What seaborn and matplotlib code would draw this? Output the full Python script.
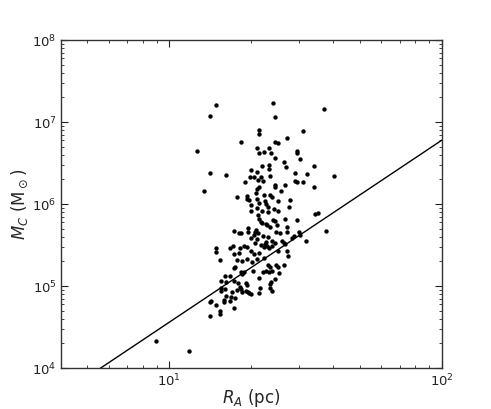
import numpy as np
import pandas as pd
import matplotlib
matplotlib.use("Agg")
import matplotlib.pyplot as plt
import seaborn as sns

# ── Data (log10 of R_A in pc, log10 of M_C in Msun) ───────────────────────
log_R = [
    1.170, 1.150, 1.380, 1.387, 1.566, 1.328, 1.328, 1.491, 1.264, 1.432,
    1.387, 1.400, 1.102, 1.321, 1.347, 1.328, 1.364, 1.372, 1.387, 1.470,
    1.470, 1.478, 1.339, 1.364, 1.364, 1.420, 1.427, 1.150, 1.207, 1.462,
    1.505, 1.532, 1.529, 1.605, 1.127, 1.298, 1.321, 1.297, 1.309, 1.337,
    1.371, 1.276, 1.325, 1.344, 1.388, 1.386, 1.409, 1.426, 1.462, 1.468,
    1.489, 1.322, 1.330, 1.318, 1.349, 1.371, 1.378, 1.398, 1.442, 1.249,
    1.285, 1.294, 1.286, 1.322, 1.330, 1.352, 1.354, 1.298, 1.300, 1.322,
    1.341, 1.361, 1.384, 1.398, 1.438, 1.326, 1.328, 1.361, 1.380, 1.388,
    1.337, 1.341, 1.356, 1.370, 1.394, 1.359, 1.426, 1.468, 1.534, 1.546,
    1.290, 1.319, 1.315, 1.237, 1.254, 1.263, 1.288, 1.299, 1.309, 1.321,
    1.327, 1.345, 1.361, 1.393, 1.405, 1.431, 1.432, 1.389, 1.376, 1.356,
    1.352, 1.336, 1.313, 1.286, 1.273, 1.258, 1.235, 1.223, 1.170, 1.170,
    1.254, 1.237, 1.299, 1.310, 1.330, 1.347, 1.359, 1.377, 1.367, 1.415,
    1.420, 1.451, 1.459, 1.478, 1.474, 1.501, 1.573, 1.400, 1.432, 1.437,
    1.423, 1.248, 1.187, 1.266, 1.286, 1.304, 1.322, 1.349, 1.361, 1.369,
    1.393, 1.400, 1.420, 1.240, 1.236, 1.264, 1.273, 1.266, 1.221, 1.206,
    1.308, 1.328, 1.344, 1.366, 1.376, 1.355, 1.189, 1.208, 1.238, 1.251,
    1.281, 1.286, 1.259, 1.249, 1.229, 1.191, 1.189, 1.206, 1.209, 1.225,
    1.240, 1.264, 1.266, 1.280, 1.288, 1.292, 1.299, 1.332, 1.328, 1.371,
    1.371, 1.377, 1.386, 1.404, 1.374, 1.151, 1.150, 1.170, 1.202, 1.202,
    1.223, 1.236, 1.187, 1.187, 1.150, 0.951, 1.073,
]
log_M = [
    7.203, 7.072, 7.231, 7.060, 7.162, 6.909, 6.853, 6.893, 6.759, 6.804,
    6.763, 6.739, 6.653, 6.682, 6.633, 6.621, 6.682, 6.629, 6.568, 6.653,
    6.629, 6.551, 6.470, 6.474, 6.429, 6.511, 6.450, 6.376, 6.352, 6.385,
    6.364, 6.470, 6.214, 6.344, 6.165, 6.417, 6.393, 6.332, 6.332, 6.336,
    6.340, 6.267, 6.291, 6.283, 6.230, 6.214, 6.157, 6.230, 6.283, 6.267,
    6.275, 6.185, 6.210, 6.136, 6.108, 6.108, 6.083, 6.035, 6.047, 6.083,
    6.104, 6.047, 6.059, 6.059, 6.018, 6.035, 6.002, 5.986, 5.913, 5.953,
    5.921, 5.961, 5.945, 5.917, 5.961, 5.864, 5.823, 5.900, 5.807, 5.794,
    5.778, 5.766, 5.758, 5.717, 5.742, 5.742, 5.815, 5.807, 5.880, 5.888,
    5.713, 5.681, 5.660, 5.677, 5.644, 5.644, 5.656, 5.587, 5.624, 5.571,
    5.644, 5.615, 5.595, 5.656, 5.648, 5.717, 5.660, 5.530, 5.546, 5.538,
    5.510, 5.501, 5.522, 5.481, 5.489, 5.461, 5.485, 5.461, 5.461, 5.412,
    5.408, 5.392, 5.424, 5.396, 5.404, 5.481, 5.493, 5.485, 5.465, 5.550,
    5.526, 5.591, 5.607, 5.620, 5.656, 5.546, 5.668, 5.428, 5.424, 5.367,
    5.510, 5.318, 5.318, 5.310, 5.327, 5.290, 5.331, 5.343, 5.261, 5.229,
    5.253, 5.237, 5.253, 5.237, 5.225, 5.176, 5.168, 5.143, 5.127, 5.119,
    5.180, 5.103, 5.176, 5.168, 5.184, 5.180, 5.062, 5.046, 5.062, 5.034,
    5.034, 5.013, 4.985, 4.948, 4.928, 4.973, 4.940, 4.960, 4.879, 4.863,
    4.859, 4.968, 4.928, 4.936, 4.928, 4.911, 4.903, 4.977, 4.920, 5.025,
    4.977, 4.944, 5.082, 5.164, 5.050, 4.818, 4.806, 4.765, 4.826, 4.806,
    4.814, 4.737, 4.692, 4.663, 4.635, 4.334, 4.212,
]

# power-law relation: log M = LINE_LOGM_AT_10 + LINE_SLOPE * (log R - 1)
LINE_SLOPE = 2.22
LINE_LOGM_AT_10 = 4.56

X_LIM = (4, 100)
Y_LIM = (1e4, 1e8)

# ── Frame ─────────────────────────────────────────────────────────────────
df = pd.DataFrame({"R": 10 ** np.array(log_R), "M": 10 ** np.array(log_M)})

line_R = np.logspace(np.log10(X_LIM[0]), np.log10(X_LIM[1]), 200)
line_df = pd.DataFrame({
    "R": line_R,
    "M": 10 ** (LINE_LOGM_AT_10 + LINE_SLOPE * (np.log10(line_R) - 1)),
})

sns.set_style("ticks")
plt.rcParams["font.family"] = ["DejaVu Sans"]
plt.rcParams["mathtext.fontset"] = "dejavusans"

fig = plt.figure(figsize=(4.91, 4.09), dpi=100)
ax = fig.add_axes([0.124, 0.100, 0.776, 0.802])

sns.scatterplot(data=df, x="R", y="M", ax=ax, color="black", s=10,
                linewidth=0, zorder=3)
sns.lineplot(data=line_df, x="R", y="M", ax=ax, color="black", lw=1.0,
             sort=True, estimator=None)

ax.set_xscale("log")
ax.set_yscale("log")
ax.set_xlim(*X_LIM)
ax.set_ylim(*Y_LIM)

ax.tick_params(which="both", direction="in", top=True, right=True,
               labelsize=9.5, colors="#222222", pad=3)
ax.tick_params(which="major", length=5, width=0.8)
ax.tick_params(which="minor", length=2.5, width=0.6)
for sp in ax.spines.values():
    sp.set_color("#333333")
    sp.set_linewidth(1.0)

ax.set_xlabel(r"$R_A$ (pc)", fontsize=12, labelpad=-1)
ax.set_ylabel(r"$M_C$ (M$_\odot$)", fontsize=12, labelpad=2)

fig.savefig("out.png", dpi=100)
plt.close(fig)
